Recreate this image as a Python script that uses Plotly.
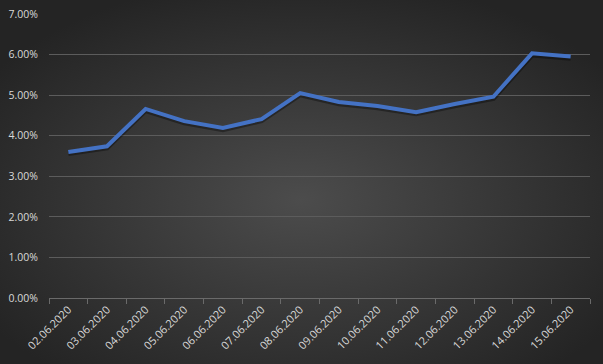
import base64
import plotly.graph_objects as go

dates = ["02.06.2020", "03.06.2020", "04.06.2020", "05.06.2020", "06.06.2020",
         "07.06.2020", "08.06.2020", "09.06.2020", "10.06.2020", "11.06.2020",
         "12.06.2020", "13.06.2020", "14.06.2020", "15.06.2020"]
rates = [0.0360, 0.0374, 0.0466, 0.0436, 0.0419, 0.0441, 0.0505,
         0.0483, 0.0473, 0.0458, 0.0478, 0.0496, 0.0603, 0.0595]

W, H = 603, 364
L, R, T, B = 49, 13, 14, 66
pw, ph = W - L - R, H - T - B

svg = f'''<svg xmlns="http://www.w3.org/2000/svg" width="{W}" height="{H}" preserveAspectRatio="none">
<defs><radialGradient id="g" cx="50%" cy="55%" r="62%">
<stop offset="0%" stop-color="#4c4c4c"/><stop offset="100%" stop-color="#242424"/>
</radialGradient></defs><rect width="{W}" height="{H}" fill="url(#g)"/></svg>'''
src = "data:image/svg+xml;base64," + base64.b64encode(svg.encode()).decode()

fig = go.Figure()
# shadow
fig.add_trace(go.Scatter(x=dates, y=[v - 0.0004 for v in rates], mode="lines",
                         line=dict(color="rgba(0,0,0,0.35)", width=5),
                         hoverinfo="skip", showlegend=False))
fig.add_trace(go.Scatter(x=dates, y=rates, mode="lines",
                         line=dict(color="#4472C4", width=4), showlegend=False))

fig.add_layout_image(dict(source=src, xref="paper", yref="paper",
                          x=-L / pw, y=1 + T / ph, sizex=W / pw, sizey=H / ph,
                          xanchor="left", yanchor="top", sizing="stretch",
                          layer="below"))

font = dict(family="Open Sans, DejaVu Sans", size=10.5, color="#d9d9d9")
xfont = dict(family="Open Sans, DejaVu Sans", size=11, color="#d9d9d9")
fig.update_layout(
    width=W, height=H, margin=dict(l=L, r=R, t=T, b=B, autoexpand=False),
    paper_bgcolor="#303030", plot_bgcolor="rgba(0,0,0,0)",
    showlegend=False,
    xaxis=dict(type="category", tickangle=-45, tickfont=xfont, automargin=False,
               showgrid=False, ticks="outside", ticklen=5, tickcolor="#6a6a6a",
               tickson="boundaries", showline=True, linecolor="#6a6a6a",
               zeroline=False, range=[-0.5, len(dates) - 0.5]),
    yaxis=dict(range=[0, 0.07], dtick=0.01, tickformat=".2%", tickfont=font,
               automargin=False,
               showgrid=True, gridcolor="#5c5c5c", gridwidth=1,
               zeroline=False, showline=False,
               ticks="outside", ticklen=8, tickcolor="rgba(0,0,0,0)"),
)
fig.write_html("out.html", config={"displayModeBar": False},
               post_script="document.body.style.margin='0';document.body.style.background='#242424';")
